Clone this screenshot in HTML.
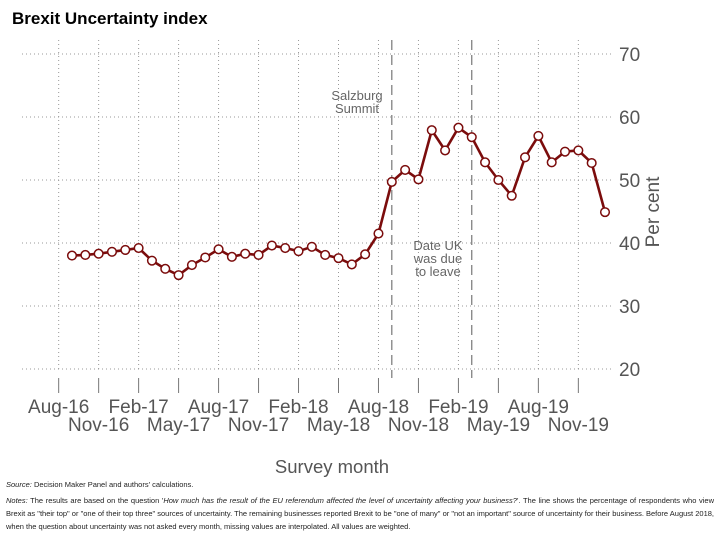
<!DOCTYPE html>
<html><head><meta charset="utf-8"><style>
body{margin:0;width:720px;height:540px;background:#fff;font-family:"Liberation Sans",sans-serif;overflow:hidden;position:relative}
.t{position:absolute;color:#222}
</style></head><body>
<div class="t" style="left:12px;top:9px;font-size:17px;font-weight:bold;color:#000">Brexit Uncertainty index</div>
<svg id="c" width="720" height="540" style="position:absolute;left:0;top:0"></svg>
<div class="t" style="left:6px;top:480px;font-size:7.5px"><i>Source:</i> Decision Maker Panel and authors' calculations.</div>
<div class="t" style="left:6px;top:494px;width:708px;font-size:7.5px;line-height:13px;text-align:justify"><i>Notes:</i> The results are based on the question '<i>How much has the result of the EU referendum affected the level of uncertainty affecting your business?</i>'. The line shows the percentage of respondents who view Brexit as "their top" or "one of their top three" sources of uncertainty. The remaining businesses reported Brexit to be "one of many" or "not an important" source of uncertainty for their business. Before August 2018, when the question about uncertainty was not asked every month, missing values are interpolated. All values are weighted.</div>
<script>
const values=[38.0,38.1,38.3,38.6,38.9,39.2,37.2,35.9,34.9,36.5,37.7,39.0,37.8,38.3,38.1,39.6,39.2,38.7,39.4,38.1,37.6,36.6,38.2,41.5,49.7,51.6,50.1,57.9,54.7,58.3,56.8,52.8,50.0,47.5,53.6,57.0,52.8,54.5,54.7,52.7,44.9];
const yTicks=[20,30,40,50,60,70];
const row1=["Aug-16","Feb-17","Aug-17","Feb-18","Aug-18","Feb-19","Aug-19"];
const row2=["Nov-16","May-17","Nov-17","May-18","Nov-18","May-19","Nov-19"];
const eventIdx=[24,30];
const svg=document.getElementById('c');
const NS='http://www.w3.org/2000/svg';
const x=i=>72+i*(605-72)/40;
const y=v=>369-(v-20)*6.3;
function mk(t,a,p){const e=document.createElementNS(NS,t);for(const k in a)e.setAttribute(k,a[k]);(p||svg).appendChild(e);return e;}
for(let k=0;k<14;k++){const gx=x(k*3-1);
const g=mk('line',{x1:gx,x2:gx,y1:40,y2:370,stroke:'#999','stroke-width':1,'stroke-dasharray':'1 3'});


const tk=mk('line',{x1:gx,x2:gx,y1:378,y2:393,stroke:'#777','stroke-width':1});


const lab=(k%2==0?row1:row2)[Math.floor(k/2)];
const tx=mk('text',{x:gx,y:k%2==0?413:431,'text-anchor':'middle','font-size':19,fill:'#555'});tx.textContent=lab;

}
yTicks.forEach(v=>{const g=mk('line',{x1:22,x2:612,y1:y(v),y2:y(v),stroke:'#999','stroke-width':1,'stroke-dasharray':'1 3'});


const t=mk('text',{x:619,y:y(v)+7,'font-size':19,fill:'#555'});t.textContent=v;

});
eventIdx.forEach(i=>{const l=mk('line',{x1:x(i),x2:x(i),y1:40,y2:378,stroke:'#777','stroke-width':1.2,'stroke-dasharray':'10 5'});

});
const ln=mk('polyline',{points:values.map((v,i)=>x(i)+','+y(v)).join(' '),fill:'none',stroke:'#7b0c0c','stroke-width':2.6});


values.forEach((v,i)=>{const c=mk('circle',{cx:x(i),cy:y(v),r:4.3,fill:'#fff',stroke:'#7b0c0c','stroke-width':1.5});

});
function txt(s,a,name){const t=mk('text',a);t.textContent=s;

}
txt('Salzburg',{x:357,y:100,'text-anchor':'middle','font-size':13,fill:'#666'},'annotation-salzburg');
txt('Summit',{x:357,y:113,'text-anchor':'middle','font-size':13,fill:'#666'},'annotation-summit');
txt('Date UK',{x:438,y:250,'text-anchor':'middle','font-size':13,fill:'#666'},'annotation-date-uk');
txt('was due',{x:438,y:263,'text-anchor':'middle','font-size':13,fill:'#666'},'annotation-was-due');
txt('to leave',{x:438,y:276,'text-anchor':'middle','font-size':13,fill:'#666'},'annotation-to-leave');
txt('Survey month',{x:332,y:473,'text-anchor':'middle','font-size':18.5,fill:'#555'},'x-axis-title');
txt('Per cent',{x:0,y:0,'text-anchor':'middle','font-size':19,fill:'#555',transform:'translate(659,212) rotate(-90)'},'y-axis-title');
</script>
</body></html>
